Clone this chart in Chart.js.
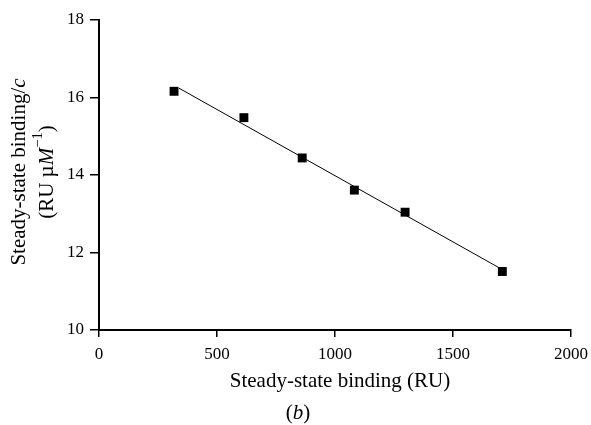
<!DOCTYPE html>
<html>
<head>
<meta charset="utf-8">
<script src="https://cdn.jsdelivr.net/npm/chart.js@4"></script>
<style>
  html, body { margin: 0; padding: 0; background: #fff; }
  #wrap { width: 591px; height: 425px; }
</style>
</head>
<body>
<div id="wrap"><canvas id="chart" width="591" height="425"></canvas></div>
<script>
// DATA
const bindingRU = [318, 614, 861, 1082, 1297, 1709];
const bindingOverC = [16.16, 15.48, 14.44, 13.61, 13.04, 11.51];
const fitX = [339, 1709];
const fitY = [16.24, 11.56];
const xTicks = [0, 500, 1000, 1500, 2000];
const yTicks = [10, 12, 14, 16, 18];

const SERIF = "'Liberation Serif', 'Times New Roman', serif";
const TITLE_SIZE = 21;

// Y TITLE WITH ITALIC AND SUPERSCRIPT PARTS
function drawRuns(ctx, runs, size) {
    let total = 0;
    runs.forEach(r => {
        ctx.font = (r.italic ? "italic " : "") + (r.sup ? size * 0.7 : size) + "px " + SERIF;
        r.w = ctx.measureText(r.text).width;
        total += r.w;
    });
    let x = -total / 2;
    runs.forEach(r => {
        ctx.font = (r.italic ? "italic " : "") + (r.sup ? size * 0.7 : size) + "px " + SERIF;
        ctx.fillText(r.text, x, r.sup ? -size * 0.42 : 0);
        x += r.w;
    });
}

const labelPlugin = {
    id: "labels",
    afterDraw(chart) {
        const ctx = chart.ctx;
        ctx.save();
        ctx.fillStyle = "#000";
        ctx.textBaseline = "middle";
        ctx.textAlign = "left";

        // y title, two rotated lines
        const cy = 172;
        ctx.save();
        ctx.translate(19, cy);
        ctx.rotate(-Math.PI / 2);
        drawRuns(ctx, [{ text: "Steady-state binding/" }, { text: "c", italic: true }], TITLE_SIZE);
        ctx.restore();

        ctx.save();
        ctx.translate(47, cy);
        ctx.rotate(-Math.PI / 2);
        drawRuns(ctx, [
            { text: "(RU \u00b5" },
            { text: "M", italic: true },
            { text: "\u2212", sup: true },
            { text: "1", sup: true },
            { text: ")" }
        ], TITLE_SIZE);
        ctx.restore();

        // x title and panel label
        ctx.textAlign = "center";
        ctx.font = TITLE_SIZE + "px " + SERIF;
        ctx.fillText("Steady-state binding (RU)", 340, 381);
        ctx.textAlign = "left";
        ctx.translate(298, 413);
        drawRuns(ctx, [{ text: "(" }, { text: "b", italic: true }, { text: ")" }], TITLE_SIZE);
        ctx.restore();
    }
};

const ctx = document.getElementById("chart").getContext("2d");
new Chart(ctx, {
    type: "scatter",
    data: {
        datasets: [
            {
                label: "fit",
                type: "line",
                data: fitX.map((x, i) => ({ x: x, y: fitY[i] })),
                borderColor: "#000",
                borderWidth: 1,
                pointRadius: 0,
                fill: false
            },
            {
                label: "data",
                data: bindingRU.map((x, i) => ({ x: x, y: bindingOverC[i] })),
                pointStyle: "rect",
                pointRadius: 6.3,
                backgroundColor: "#000",
                borderColor: "#000",
                borderWidth: 0
            }
        ]
    },
    plugins: [labelPlugin],
    options: {
        responsive: false,
        animation: false,
        events: [],
        layout: { padding: { top: 20, right: 20, left: 0, bottom: 0 } },
        plugins: {
            legend: { display: false },
            tooltip: { enabled: false }
        },
        scales: {
            x: {
                type: "linear",
                min: 0,
                max: 2000,
                afterBuildTicks: scale => { scale.ticks = xTicks.map(v => ({ value: v })); },
                afterFit: scale => {
                    scale.height = 95;
                    scale.paddingLeft = 0;
                    scale.paddingRight = 0;
                },
                grid: { drawOnChartArea: false, drawTicks: true, tickLength: 7, color: "#000", lineWidth: 1.5 },
                border: { display: true, color: "#000", width: 2 },
                ticks: {
                    color: "#000", padding: 7, maxRotation: 0,
                    font: { family: SERIF, size: 17 },
                    callback: v => String(v)
                }
            },
            y: {
                type: "linear",
                min: 10,
                max: 18,
                afterBuildTicks: scale => { scale.ticks = yTicks.map(v => ({ value: v })); },
                afterFit: scale => {
                    scale.width = 99;
                    scale.paddingTop = 0;
                    scale.paddingBottom = 0;
                },
                grid: { drawOnChartArea: false, drawTicks: true, tickLength: 9, color: "#000", lineWidth: 1.5 },
                border: { display: true, color: "#000", width: 2 },
                ticks: {
                    color: "#000", padding: 6,
                    font: { family: SERIF, size: 17 },
                    callback: v => String(v)
                }
            }
        }
    }
});
</script>
</body>
</html>
